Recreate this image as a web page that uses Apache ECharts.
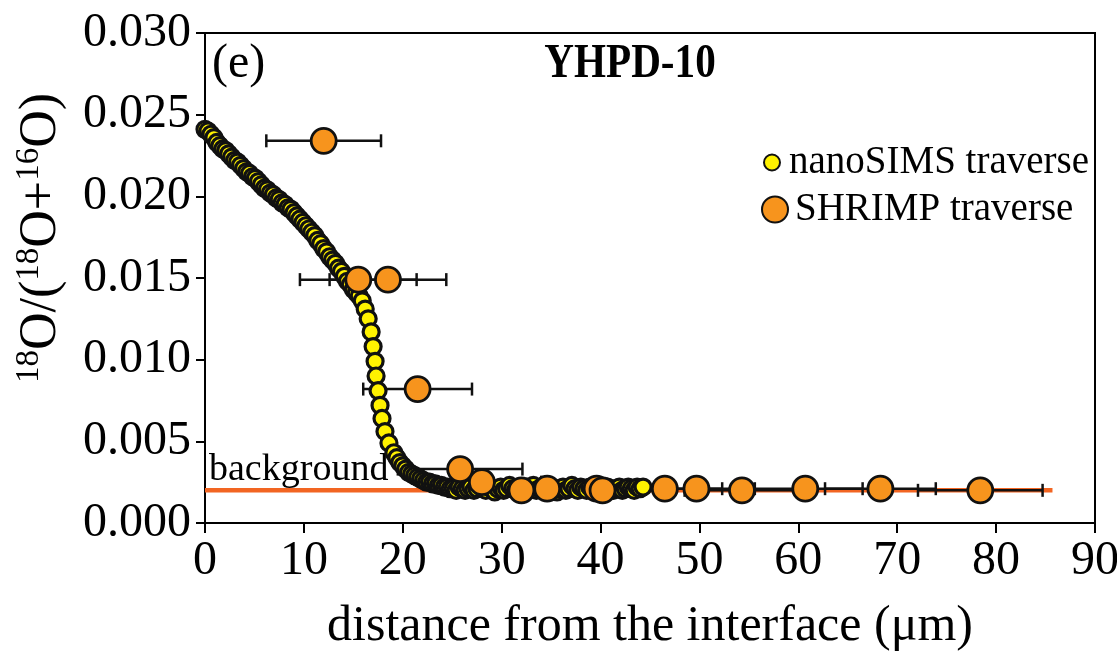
<!DOCTYPE html>
<html>
<head>
<meta charset="utf-8">
<title>YHPD-10 oxygen isotope profile</title>
<script src="https://cdn.jsdelivr.net/npm/echarts@6/dist/echarts.min.js"></script>
<style>
  html, body { margin: 0; padding: 0; background: #fff; }
  #chart { width: 1117px; height: 657px; }
</style>
</head>
<body>
<div id="chart"></div>
<script>
// nanoSIMS line scan: distance (µm) and 18O/(18O+16O)
const nanoX = [
  0.0, 0.3, 0.6, 0.9, 1.2, 1.5, 1.8, 2.1, 2.4, 2.7,
  3.0, 3.3, 3.6, 3.9, 4.2, 4.5, 4.8, 5.1, 5.4, 5.7,
  6.0, 6.3, 6.6, 6.9, 7.2, 7.5, 7.8, 8.1, 8.4, 8.7,
  9.0, 9.3, 9.6, 9.9, 10.2, 10.5, 10.8, 11.1, 11.4, 11.7,
  12.0, 12.3, 12.6, 12.9, 13.2, 13.5, 13.8, 14.1, 14.4, 14.7,
  15.0, 15.3, 15.6, 15.9, 16.2, 16.5, 16.8, 17.0, 17.2, 17.3,
  17.5, 17.7, 17.9, 18.2, 18.6,
  19.1, 19.4, 19.7, 20.0, 20.3, 20.6, 20.9, 21.2, 21.5, 21.8,
  22.1, 22.4, 22.7, 23.0, 23.3, 23.6, 23.9, 24.2, 24.5, 24.8,
  25.1, 25.4, 25.7, 26.0, 26.3, 26.6, 26.9, 27.2, 27.5, 27.8,
  28.1, 28.4, 28.7, 29.0, 29.3, 29.6, 29.9, 30.2, 30.5, 30.8,
  31.1, 31.4, 31.7, 32.0, 32.3, 32.6, 32.9, 33.2, 33.5, 33.8,
  34.1, 34.4, 34.7, 35.0, 35.3, 35.6, 35.9, 36.2, 36.5, 36.8,
  37.1, 37.4, 37.7, 38.0, 38.3, 38.6, 38.9, 39.2, 39.5, 39.8,
  40.1, 40.4, 40.7, 41.0, 41.3, 41.6, 41.9, 42.2, 42.5, 42.8,
  43.1, 43.4, 43.7, 44.0, 44.3
];
const nanoY = [
  0.0241, 0.0240, 0.0238, 0.0236, 0.0233, 0.0231, 0.0229, 0.0228, 0.0226, 0.0224,
  0.0222, 0.0221, 0.0219, 0.0217, 0.0215, 0.0214, 0.0212, 0.0211, 0.0209, 0.0207,
  0.0205, 0.0204, 0.0202, 0.0201, 0.0199, 0.0198, 0.0196, 0.0195, 0.0193, 0.0192,
  0.0190, 0.0188, 0.0186, 0.0184, 0.0182, 0.0180, 0.0178, 0.0176, 0.0173, 0.0171,
  0.0168, 0.0166, 0.0163, 0.0161, 0.0159, 0.0156, 0.0154, 0.0151, 0.0148, 0.0146,
  0.0143, 0.0141, 0.0139, 0.0136, 0.0131, 0.0125, 0.0117, 0.0108, 0.0099, 0.0090,
  0.0081, 0.0072, 0.0064, 0.0056, 0.0049,
  0.0043, 0.0040, 0.0037, 0.0035, 0.0033, 0.0031, 0.0030, 0.0029, 0.0028, 0.0027,
  0.0026, 0.0025, 0.0025, 0.0024, 0.0024, 0.0023, 0.0023, 0.0022, 0.0022, 0.0021,
  0.0021, 0.0020, 0.0022, 0.0021, 0.0020, 0.0021, 0.0022, 0.0020, 0.0021, 0.0023,
  0.0021, 0.0020, 0.0022, 0.0021, 0.0019, 0.0021, 0.0022, 0.0020, 0.0021, 0.0023,
  0.0021, 0.0020, 0.0022, 0.0021, 0.0020, 0.0022, 0.0021, 0.0023, 0.0020, 0.0021,
  0.0022, 0.0020, 0.0021, 0.0022, 0.0021, 0.0019, 0.0021, 0.0022, 0.0020, 0.0021,
  0.0023, 0.0021, 0.0020, 0.0022, 0.0021, 0.0020, 0.0022, 0.0021, 0.0020, 0.0022,
  0.0021, 0.0020, 0.0022, 0.0021, 0.0020, 0.0021, 0.0022, 0.0020, 0.0021, 0.0022,
  0.0021, 0.0020, 0.0022, 0.0021, 0.0022
];

// SHRIMP spots: distance (µm), ratio, horizontal uncertainty (µm)
const shrimpX   = [12.0, 15.5, 18.5, 21.5, 25.8, 28.0, 32.0, 34.6, 39.6, 40.2, 46.5, 49.7, 54.3, 60.7, 68.3, 78.4];
const shrimpY   = [0.0234, 0.0149, 0.0149, 0.0082, 0.0033, 0.0025, 0.0020, 0.0021, 0.0021, 0.0020, 0.0021, 0.0021, 0.0020, 0.0021, 0.0021, 0.0020];
const shrimpErr = [5.8, 5.9, 5.9, 5.5, 6.3, 6.0, 6.0, 6.0, 6.0, 6.0, 5.8, 5.9, 5.8, 5.8, 5.6, 6.3];

// background level and its extent
const bgLevel = 0.002;
const bgRange = [0, 85.7];

const FONT = '"Liberation Serif", "Times New Roman", serif';

const chart = echarts.init(document.getElementById('chart'), null, { renderer: 'canvas' });

const nanoData = nanoX.map((x, i) => [x, nanoY[i]]);
const shrimpData = shrimpX.map((x, i) => [x, shrimpY[i]]);
const errData = shrimpX.map((x, i) => [x, shrimpY[i], shrimpErr[i]]);
const bgData = bgRange.map(x => [x, bgLevel]);

const option = {
  animation: false,
  backgroundColor: '#fff',
  grid: {
    left: 205, right: 22, top: 33, bottom: 134,
    show: true, borderColor: '#000', borderWidth: 2,
    containLabel: false, outerBoundsMode: 'none'
  },
  xAxis: {
    type: 'value', min: 0, max: 90, interval: 10,
    name: 'distance from the interface (\u03bcm)',
    nameLocation: 'middle', nameGap: 79,
    nameTextStyle: { fontFamily: FONT, fontSize: 50, color: '#000' },
    axisLine: { show: true, onZero: false, lineStyle: { color: '#000', width: 2 } },
    axisTick: { show: true, inside: false, length: 10, lineStyle: { color: '#000', width: 2 } },
    axisLabel: { fontFamily: FONT, fontSize: 48, color: '#000', margin: 14, hideOverlap: false },
    splitLine: { show: false }
  },
  yAxis: {
    type: 'value', min: 0, max: 0.03, interval: 0.005,
    axisLine: { show: true, onZero: false, lineStyle: { color: '#000', width: 2 } },
    axisTick: { show: true, inside: false, length: 9, lineStyle: { color: '#000', width: 2 } },
    axisLabel: {
      fontFamily: FONT, fontSize: 48, color: '#000', margin: 14, hideOverlap: false,
      formatter: v => v.toFixed(3)
    },
    splitLine: { show: false }
  },
  legend: [
    {
      data: [{ name: 'nanoSIMS traverse', icon: 'circle' }],
      left: 763, top: 143, itemWidth: 16, itemHeight: 16,
      selectedMode: false, padding: 0,
      textStyle: { fontFamily: FONT, fontSize: 39, color: '#000', padding: [0, 0, 0, 4] }
    },
    {
      data: [{ name: 'SHRIMP traverse', icon: 'circle' }],
      left: 761, top: 190, itemWidth: 26, itemHeight: 26,
      selectedMode: false, padding: 0,
      textStyle: { fontFamily: FONT, fontSize: 39, color: '#000', padding: [0, 0, 0, 2] }
    }
  ],
  graphic: [
    {
      type: 'text', x: 212, y: 64,
      style: { text: '(e)', fontFamily: FONT, fontSize: 48, fill: '#000', align: 'left', verticalAlign: 'middle' }
    },
    {
      type: 'text', x: 630, y: 64, scaleX: 0.84,
      style: { text: 'YHPD-10', fontFamily: FONT, fontWeight: 'bold', fontSize: 49, fill: '#000', align: 'center', verticalAlign: 'middle' }
    },
    {
      type: 'text', x: 209, y: 470,
      style: { text: 'background', fontFamily: FONT, fontSize: 38, fill: '#000', align: 'left', verticalAlign: 'middle' }
    },
    {
      type: 'text', x: 40, y: 238, rotation: Math.PI / 2,
      style: {
        text: '{s|18}{n|O/(}{s|18}{n|O+}{s|16}{n|O)}',
        fill: '#000', align: 'center', verticalAlign: 'middle',
        rich: {
          n: { fontFamily: FONT, fontSize: 52, lineHeight: 54, verticalAlign: 'bottom', fill: '#000' },
          s: { fontFamily: FONT, fontSize: 33, lineHeight: 54, verticalAlign: 'top', fill: '#000' }
        }
      }
    }
  ],
  series: [
    {
      name: 'background',
      type: 'line',
      data: bgData,
      symbol: 'none',
      silent: true,
      z: 1,
      lineStyle: { color: '#F26522', width: 4.5 }
    },
    {
      name: 'SHRIMP error',
      type: 'custom',
      data: errData,
      encode: { x: 0, y: 1 },
      silent: true,
      z: 2,
      renderItem: function (params, api) {
        const x = api.value(0), y = api.value(1), e = api.value(2);
        const l = api.coord([x - e, y]);
        const r = api.coord([x + e, y]);
        const h = 6.5;
        const st = { stroke: '#111', lineWidth: 2.5 };
        return {
          type: 'group',
          children: [
            { type: 'line', shape: { x1: l[0], y1: l[1], x2: r[0], y2: r[1] }, style: st },
            { type: 'line', shape: { x1: l[0], y1: l[1] - h, x2: l[0], y2: l[1] + h }, style: st },
            { type: 'line', shape: { x1: r[0], y1: r[1] - h, x2: r[0], y2: r[1] + h }, style: st }
          ]
        };
      }
    },
    {
      name: 'nanoSIMS traverse',
      type: 'scatter',
      data: nanoData,
      symbol: 'circle',
      symbolSize: 16,
      z: 3,
      itemStyle: { color: '#FFF200', borderColor: '#111', borderWidth: 3.2, opacity: 1 }
    },
    {
      name: 'SHRIMP traverse',
      type: 'scatter',
      data: shrimpData,
      symbol: 'circle',
      symbolSize: 25,
      z: 4,
      itemStyle: { color: '#F7941D', borderColor: '#111', borderWidth: 2.8, opacity: 1 }
    }
  ]
};

chart.setOption(option);
</script>
</body>
</html>
